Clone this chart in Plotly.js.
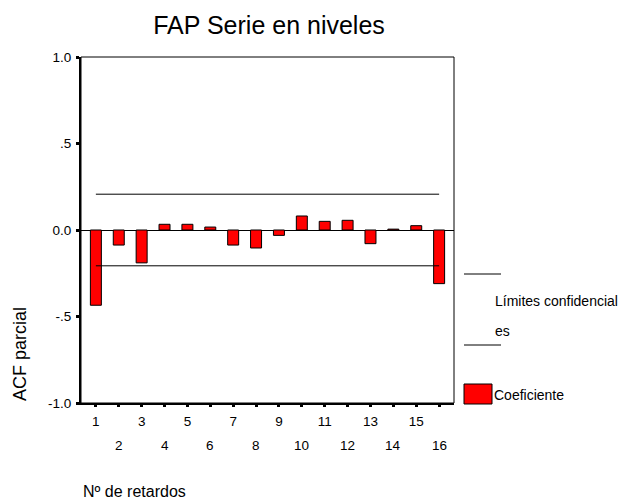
<!DOCTYPE html>
<html><head><meta charset="utf-8">
<script src="https://cdn.plot.ly/plotly-3.0.1.min.js"></script>
<style>body{margin:0;background:#fff}#c{width:629px;height:504px}</style>
</head><body><div id="c"></div>
<script>
var lags = [1,2,3,4,5,6,7,8,9,10,11,12,13,14,15,16];
var pacf = [-0.435,-0.087,-0.19,0.033,0.033,0.017,-0.087,-0.104,-0.031,0.081,0.05,0.056,-0.079,0.005,0.025,-0.31];
var confLimit = 0.207;
var yTickVals = [1.0,0.5,0.0,-0.5,-1.0];
var yTickText = ["1.0",".5","0.0","-.5","-1.0"];
var xTickTextOdd = lags.map(function(v){return (v%2===1) ? String(v) : "";});
var evenLags = lags.filter(function(v){return v%2===0;});

var font = "Liberation Sans, Arial, sans-serif";
var L=81, R=454, T=57, B=403;
function px(x){return (x-L)/(R-L);}
function py(y){return (B-y)/(B-T);}

var traces = [
 {type:'bar', x:lags, y:pacf, width:0.48,
  marker:{color:'#ff0000', line:{color:'#000', width:1}}, hoverinfo:'x+y'},
 {type:'scatter', mode:'lines', x:[lags[0],lags[lags.length-1]], y:[confLimit,confLimit],
  line:{color:'#000',width:1}},
 {type:'scatter', mode:'lines', x:[lags[0],lags[lags.length-1]], y:[-confLimit,-confLimit],
  line:{color:'#000',width:1}}
];

var annotations = [
  {text:'ACF parcial', xref:'paper', yref:'paper', x:px(20), y:py(354), textangle:-90, showarrow:false, font:{family:font,size:18}, xanchor:'center', yanchor:'middle'},
  {text:'Nº de retardos', xref:'paper', yref:'paper', x:px(81), y:py(491), showarrow:false, font:{family:font,size:16}, xanchor:'left', yanchor:'middle'},
  {text:'Límites confidencial', xref:'paper', yref:'paper', x:px(493), y:py(301), showarrow:false, font:{family:font,size:14}, xanchor:'left', yanchor:'middle'},
  {text:'es', xref:'paper', yref:'paper', x:px(493), y:py(331), showarrow:false, font:{family:font,size:14}, xanchor:'left', yanchor:'middle'},
  {text:'Coeficiente', xref:'paper', yref:'paper', x:px(492), y:py(395), showarrow:false, font:{family:font,size:14}, xanchor:'left', yanchor:'middle'}
];
evenLags.forEach(function(v){
  annotations.push({text:String(v), xref:'x', yref:'paper', x:v, y:py(445), showarrow:false,
    font:{family:font,size:13.5}, xanchor:'center', yanchor:'middle'});
});

var layout = {
 width:629, height:504, showlegend:false,
 paper_bgcolor:'#fff', plot_bgcolor:'#fff',
 margin:{l:L, r:629-R, t:T, b:504-B, pad:0},
 font:{family:font, size:13, color:'#000'},
 title:{text:'FAP Serie en niveles', font:{family:font,size:25,color:'#000'}, x:269/629, xanchor:'center', y:1-25/504, yanchor:'middle'},
 xaxis:{range:[0.35,16.65], tickvals:lags, ticktext:xTickTextOdd, showgrid:false, zeroline:false,
   showline:true, linecolor:'#000', linewidth:2, ticks:'outside', ticklen:2, tickwidth:3, tickcolor:'#000',
   ticklabelstandoff:3,
   tickfont:{family:font,size:13.5,color:'#000'}, fixedrange:true},
 yaxis:{range:[-1,1], tickvals:yTickVals, ticktext:yTickText, showgrid:false,
   zeroline:true, zerolinecolor:'#000', zerolinewidth:1,
   showline:true, linecolor:'#000', linewidth:2, ticks:'outside', ticklen:3, tickwidth:3, tickcolor:'#000',
   ticklabelstandoff:2,
   tickfont:{family:font,size:13.5,color:'#000'}, fixedrange:true},
 shapes:[
  {type:'rect', xref:'paper', yref:'paper', x0:0, x1:1, y0:0, y1:1, line:{color:'#000',width:1}},
  {type:'line', xref:'paper', yref:'paper', x0:px(464), x1:px(501), y0:py(274), y1:py(274), line:{color:'#000',width:1}},
  {type:'line', xref:'paper', yref:'paper', x0:px(464), x1:px(501), y0:py(345), y1:py(345), line:{color:'#000',width:1}},
  {type:'rect', xref:'paper', yref:'paper', x0:px(464), x1:px(492), y0:py(404), y1:py(384), fillcolor:'#ff0000', line:{color:'#000',width:1}}
 ],
 annotations: annotations
};
Plotly.newPlot('c', traces, layout, {displayModeBar:false, staticPlot:true});
</script></body></html>
